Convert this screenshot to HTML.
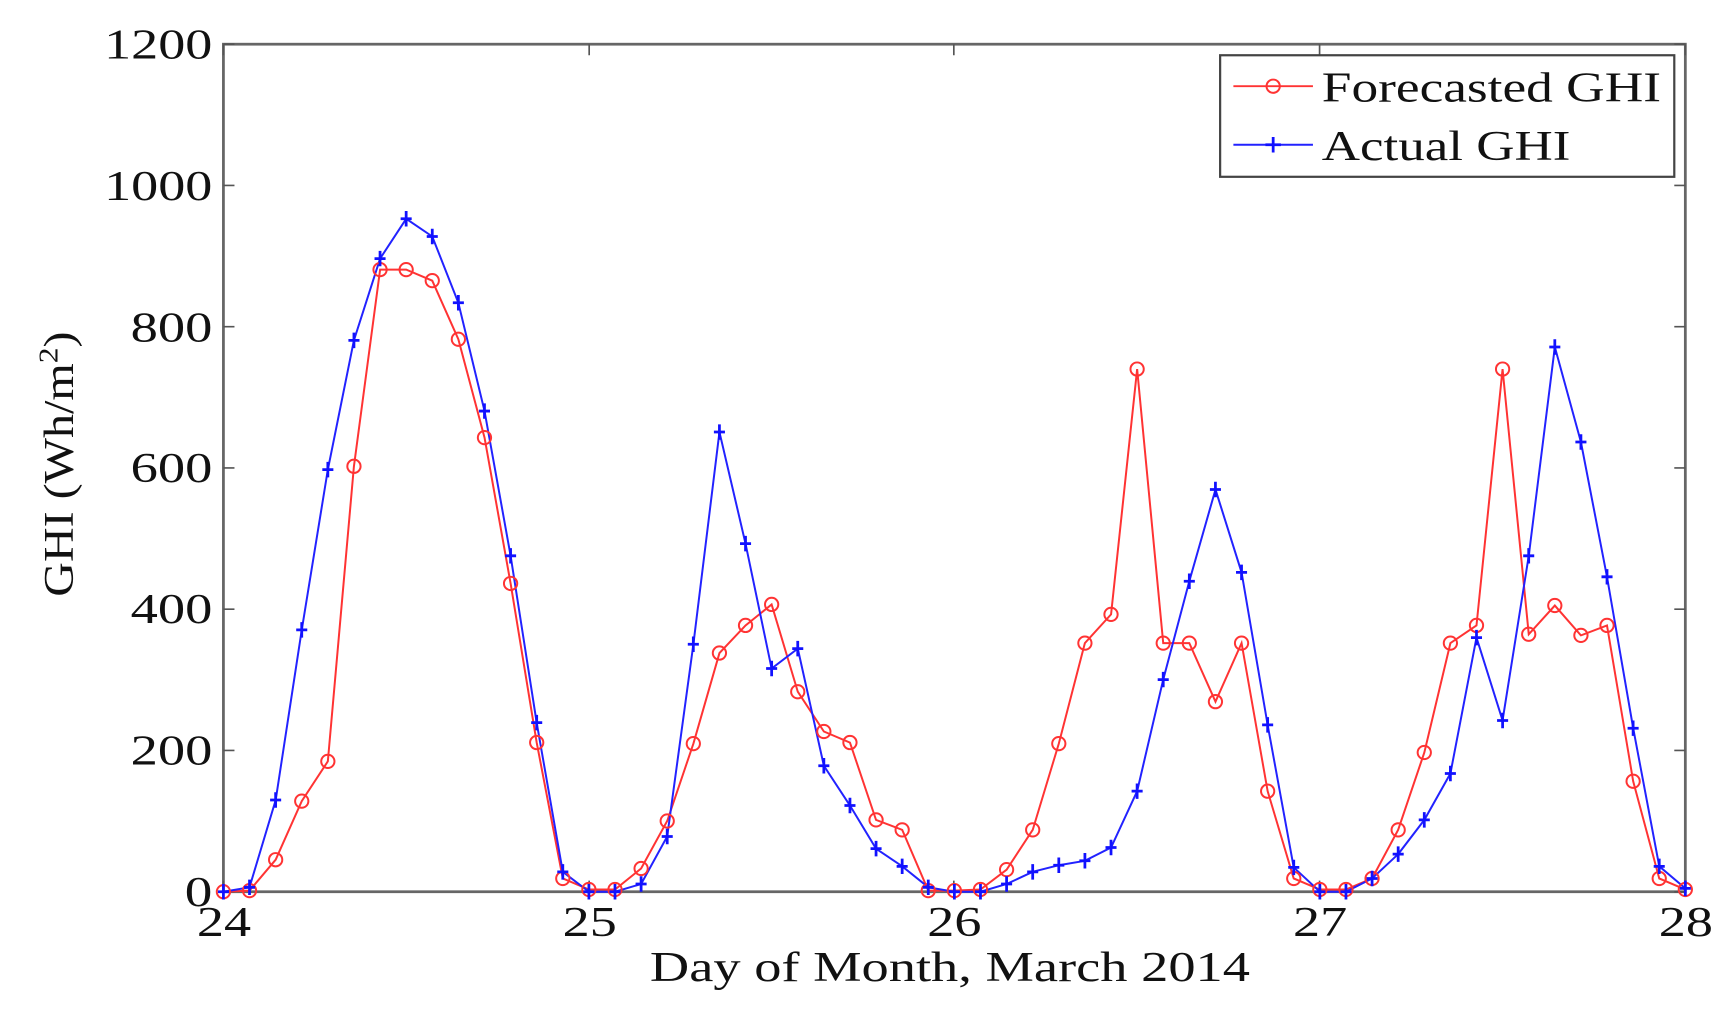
<!DOCTYPE html>
<html><head><meta charset="utf-8"><style>
html,body{margin:0;padding:0;background:#fff;}
svg{display:block;}
text{font-family:"Liberation Serif",serif;fill:#111;}
</style></head><body>
<svg id="s" width="1731" height="1018" viewBox="0 0 1731 1018" xmlns="http://www.w3.org/2000/svg">
<g transform="translate(-2,0) scale(1.105)">
<rect x="204" y="40" width="1323" height="767" fill="none" stroke="#666" stroke-width="2.5"/>
<g id="ticks" stroke="#555" stroke-width="1.5"></g>
<g font-size="38" text-anchor="end">
<text x="194" y="53" textLength="98" lengthAdjust="spacingAndGlyphs">1200</text>
<text x="194" y="181" textLength="98" lengthAdjust="spacingAndGlyphs">1000</text>
<text x="194" y="309" textLength="74" lengthAdjust="spacingAndGlyphs">800</text>
<text x="194" y="436" textLength="74" lengthAdjust="spacingAndGlyphs">600</text>
<text x="194" y="564" textLength="74" lengthAdjust="spacingAndGlyphs">400</text>
<text x="194" y="692" textLength="74" lengthAdjust="spacingAndGlyphs">200</text>
<text x="194" y="820" textLength="25" lengthAdjust="spacingAndGlyphs">0</text>
</g>
<g font-size="38">
<text x="180" y="847" textLength="49" lengthAdjust="spacingAndGlyphs">24</text>
<text x="511" y="847" textLength="49" lengthAdjust="spacingAndGlyphs">25</text>
<text x="841" y="847" textLength="49" lengthAdjust="spacingAndGlyphs">26</text>
<text x="1172" y="847" textLength="49" lengthAdjust="spacingAndGlyphs">27</text>
<text x="1503" y="847" textLength="49" lengthAdjust="spacingAndGlyphs">28</text>
<text x="590" y="888" textLength="543" lengthAdjust="spacingAndGlyphs">Day of Month, March 2014</text>
</g>
<text font-size="38" transform="translate(68,540) rotate(-90)" textLength="240" lengthAdjust="spacingAndGlyphs">GHI (Wh/m<tspan font-size="25" dy="-14">2</tspan><tspan dy="14">)</tspan></text>
<polyline id="red" fill="none" stroke="#f33" stroke-width="1.8"/>
<polyline id="blue" fill="none" stroke="#22f" stroke-width="1.8"/>
<g id="rm" fill="none" stroke="#f33" stroke-width="1.8"></g>
<g id="bm" stroke="#11f" stroke-width="2.5"></g>
<rect x="1106" y="50" width="411" height="110" fill="#fff" stroke="#444" stroke-width="2"/>
<line x1="1118" y1="78" x2="1190" y2="78" stroke="#f33" stroke-width="1.8"/>
<circle cx="1154" cy="78" r="6" fill="none" stroke="#f33" stroke-width="1.8"/>
<line x1="1118" y1="131" x2="1190" y2="131" stroke="#22f" stroke-width="1.8"/>
<path d="M1154 124V138M1147 131H1161" stroke="#11f" stroke-width="2.5"/>
<g font-size="38"><text x="1198" y="92" textLength="307" lengthAdjust="spacingAndGlyphs">Forecasted GHI</text><text x="1198" y="145" textLength="225" lengthAdjust="spacingAndGlyphs">Actual GHI</text></g>
</g>
</svg>
<script>
var B=[807,803,724,570,425,308,234,198,214,274,372,503,654,789,807,807,800,757,583,391,492,605,587,693,729,768,784,803,807,807,800,789,783,779,767,716,615,526,443,518,656,785,807,807,795,773,742,700,577,652,503,314,400,522,659,784,804];
var R=[807,806,778,725,689,422,244,244,254,307,396,528,672,795,805,805,786,743,673,591,566,547,626,662,672,742,751,806,806,805,787,751,673,582,556,334,582,582,635,582,716,795,805,805,795,751,681,582,566,334,574,548,575,566,707,795,805];
var ns="http://www.w3.org/2000/svg";
function X(k){return 204+k*1323/56;}
function pts(a){return a.map(function(y,k){return X(k).toFixed(1)+","+y}).join(" ");}
document.getElementById("red").setAttribute("points",pts(R));
document.getElementById("blue").setAttribute("points",pts(B));
var rm=document.getElementById("rm"),bm=document.getElementById("bm");
R.forEach(function(y,k){var c=document.createElementNS(ns,"circle");c.setAttribute("cx",X(k));c.setAttribute("cy",y);c.setAttribute("r",6);rm.appendChild(c);});
B.forEach(function(y,k){var p=document.createElementNS(ns,"path");var x=X(k);p.setAttribute("d","M"+x+" "+(y-7)+"V"+(y+7)+"M"+(x-5)+" "+y+"H"+(x+5));bm.appendChild(p);});
var t=document.getElementById("ticks"),d="";
[0,200,400,600,800,1000,1200].forEach(function(v){var y=807-v*767/1200;d+="M204 "+y+"H214M1527 "+y+"H1517";});
[204,535,865,1196,1527].forEach(function(x){d+="M"+x+" 807V797M"+x+" 40V50";});
var p=document.createElementNS(ns,"path");p.setAttribute("d",d);t.appendChild(p);
</script>
</body></html>
